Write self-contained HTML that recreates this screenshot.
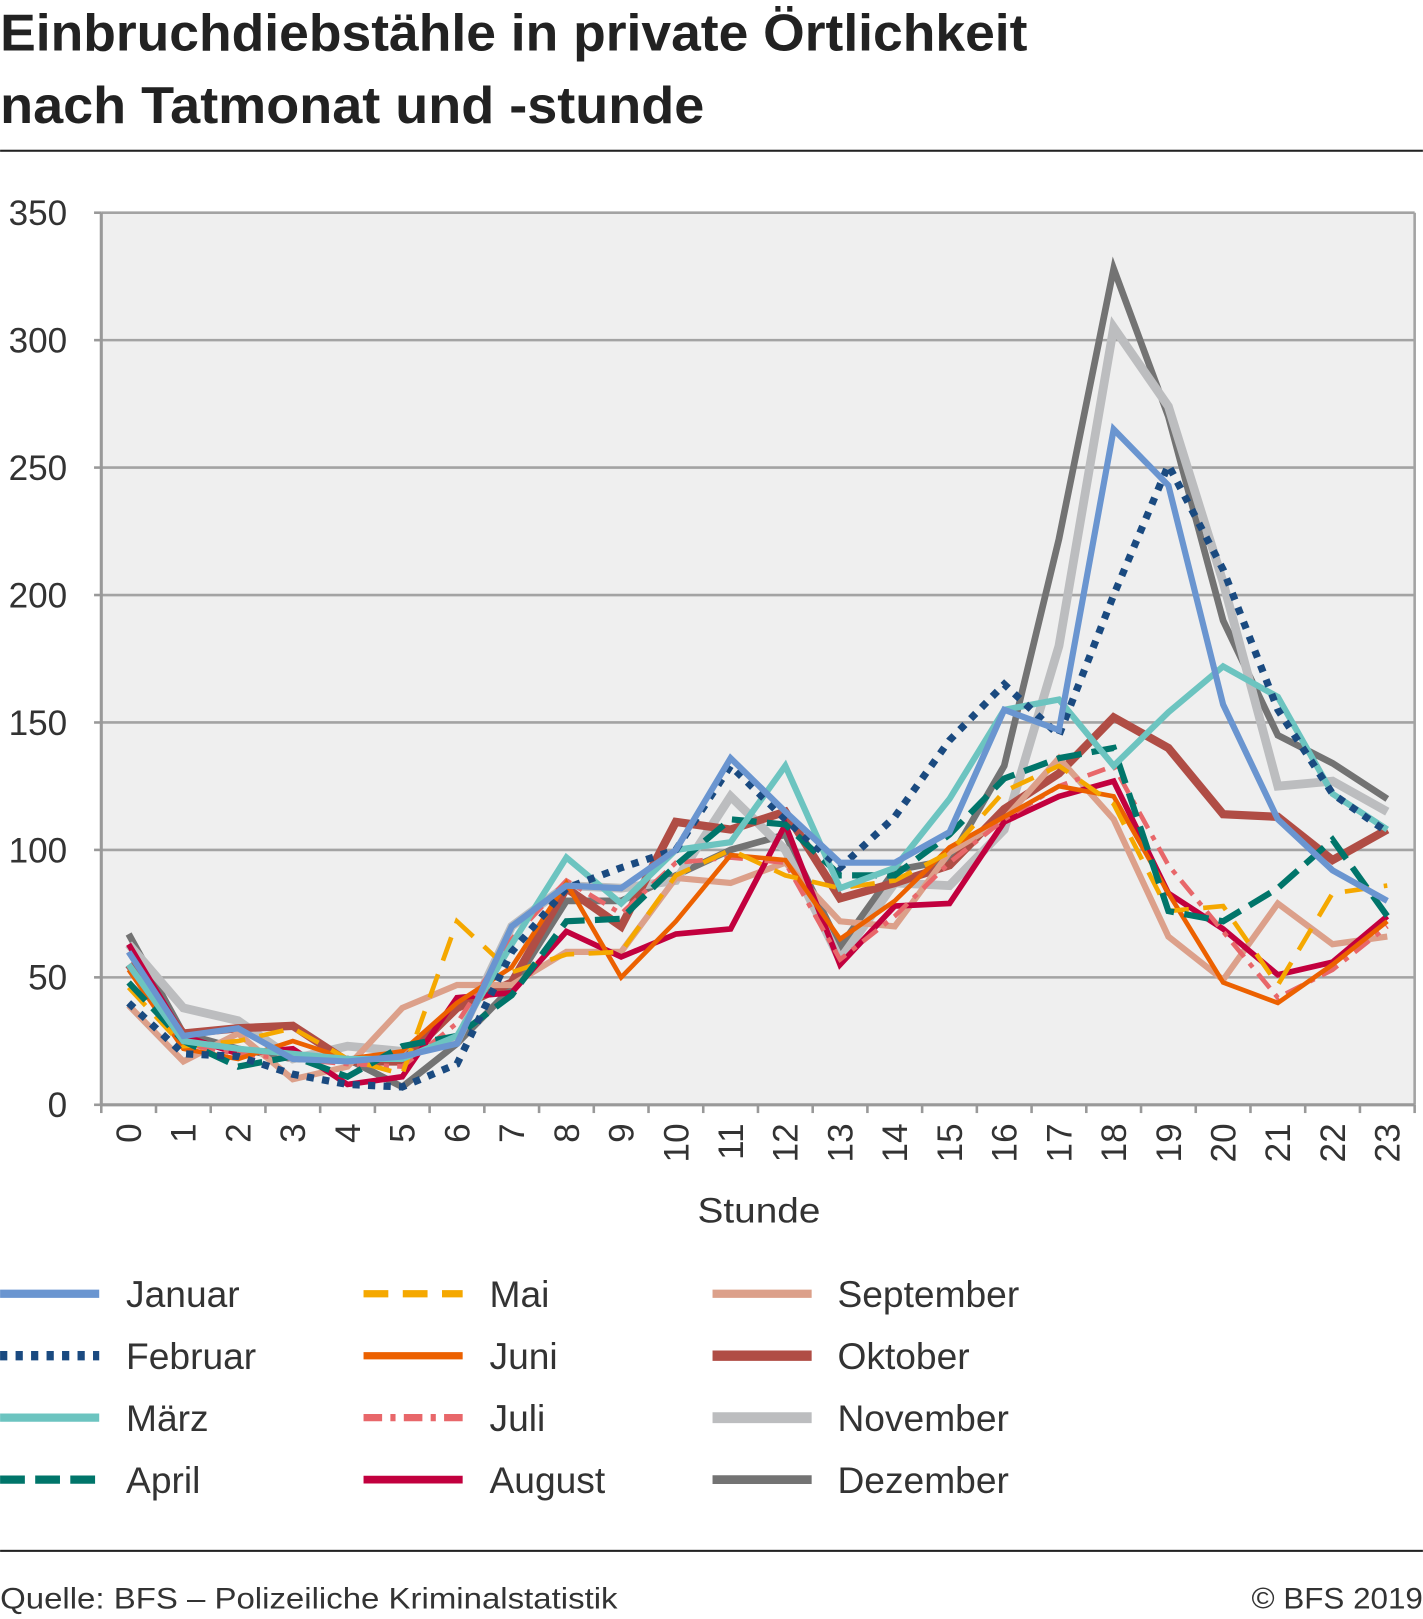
<!DOCTYPE html>
<html><head><meta charset="utf-8"><style>
html,body{margin:0;padding:0;background:#fff;}
svg{display:block;font-family:"Liberation Sans",sans-serif;}
</style></head><body>
<svg id="chart" width="1423" height="1619" viewBox="0 0 1378 1568" xmlns="http://www.w3.org/2000/svg">
<text x="0" y="49" font-size="50" font-weight="bold" fill="#222" textLength="995" lengthAdjust="spacingAndGlyphs">Einbruchdiebstähle in private Örtlichkeit</text>
<text x="0" y="119" font-size="50" font-weight="bold" fill="#222" textLength="682" lengthAdjust="spacingAndGlyphs">nach Tatmonat und -stunde</text>
<rect x="0" y="145" width="1378" height="2" fill="#222"/>
<rect x="98" y="206" width="1272" height="864" fill="#efefef"/>
<g id="grid"></g><g id="axes"></g><g id="series"></g>
<text x="735" y="1184" font-size="34" fill="#333" text-anchor="middle" textLength="119" lengthAdjust="spacingAndGlyphs">Stunde</text>
<g id="legend"></g>
<rect x="0" y="1501" width="1378" height="2" fill="#222"/>
<text x="0" y="1558" font-size="29" fill="#333" textLength="598" lengthAdjust="spacingAndGlyphs">Quelle: BFS – Polizeiliche Kriminalstatistik</text>
<text x="1378" y="1558" font-size="29" fill="#333" text-anchor="end" textLength="166" lengthAdjust="spacingAndGlyphs">© BFS 2019</text>
</svg>
<script>
const hours = ["0","1","2","3","4","5","6","7","8","9","10","11","12","13","14","15","16","17","18","19","20","21","22","23"];
const yTicks = [0,50,100,150,200,250,300,350];
const monthNames = ["Januar","Februar","März","April","Mai","Juni","Juli","August","September","Oktober","November","Dezember"];
const januar = [60,27,30,18,17,19,24,70,86,85,100,136,115,95,95,107,155,147,265,243,157,112,92,80];
const februar = [40,20,19,12,8,7,16,60,85,93,100,133,112,93,113,143,165,145,200,251,210,155,122,107];
const maerz = [55,25,22,20,18,18,27,63,97,79,100,103,133,85,93,120,155,159,133,154,172,160,122,108];
const april = [48,25,15,19,11,23,27,43,72,73,94,112,110,90,90,106,128,136,140,76,72,85,104,74];
const mai = [46,23,25,30,18,12,72,52,59,60,90,100,90,85,88,99,123,133,118,76,78,47,83,86];
const juni = [53,22,18,25,18,21,40,54,87,50,72,98,96,65,80,101,113,125,121,83,48,40,55,72];
const juli = [60,24,20,18,16,15,32,65,88,75,95,97,95,57,74,95,112,125,133,94,68,42,53,70];
const august = [63,27,20,22,8,11,42,44,68,58,67,69,110,55,78,79,111,121,127,83,69,51,56,74];
const september = [39,17,28,10,15,38,47,47,60,60,89,87,95,72,70,99,112,136,112,66,49,79,63,66];
const oktober = [55,28,30,31,17,17,38,48,85,70,111,108,115,81,87,94,116,130,152,140,114,113,96,108];
const november = [63,38,33,18,23,21,25,70,86,85,88,121,100,57,87,86,108,180,305,274,205,125,127,115];
const dezember = [67,28,22,18,18,7,24,46,80,80,90,100,106,62,92,96,133,222,328,270,190,145,134,120];

const NS="http://www.w3.org/2000/svg";
const L=98,R=1370,T=206,B=1070,MAX=350;
const band=(R-L)/hours.length;
const xS=i=>L+band*(i+0.5);
const yS=v=>B-(v/MAX)*(B-T);
function mk(tag,parent,attrs){const e=document.createElementNS(NS,tag);for(const k in attrs)e.setAttribute(k,attrs[k]);parent.appendChild(e);return e;}
const grid=document.getElementById('grid'),axes=document.getElementById('axes'),ser=document.getElementById('series'),leg=document.getElementById('legend');
yTicks.forEach(t=>{
  if(t>0){const g=mk('line',grid,{x1:L,x2:R,y1:yS(t),y2:yS(t),stroke:'#a3a3a3','stroke-width':2.5});
  
  }
  const tk=mk('line',axes,{x1:L-7,x2:L,y1:yS(t),y2:yS(t),stroke:'#999','stroke-width':2.5});
  
  
  const lb=mk('text',axes,{x:65,y:yS(t)+12,'font-size':34,fill:'#333','text-anchor':'end'});
  lb.textContent=t;
  
  
});
const ya=mk('line',axes,{x1:L,x2:L,y1:T,y2:B+1,stroke:'#999','stroke-width':3});


const yr=mk('line',axes,{x1:R,x2:R,y1:T,y2:B,stroke:'#a3a3a3','stroke-width':2.5});


const xa=mk('line',axes,{x1:L,x2:R,y1:B,y2:B,stroke:'#999','stroke-width':3});


for(let i=0;i<=hours.length;i++){
  const tk=mk('line',axes,{x1:L+band*i,x2:L+band*i,y1:B,y2:B+8,stroke:'#999','stroke-width':2.5});
  
  
}
hours.forEach((h,i)=>{
  const x=xS(i)+12,y=1088;
  const lb=mk('text',axes,{x:x,y:y,'font-size':34,fill:'#333','text-anchor':'end',transform:`rotate(-90 ${x} ${y})`});
  lb.textContent=h;
  
  
});
const seriesData=[januar,februar,maerz,april,mai,juni,juli,august,september,oktober,november,dezember];
const styles=[
 {c:'#6a95d0',w:6,d:''},
 {c:'#1a4a80',w:7,d:'7 8'},
 {c:'#6cc4c0',w:6,d:''},
 {c:'#00756a',w:6,d:'24 10'},
 {c:'#f5a800',w:4.5,d:'24 14'},
 {c:'#ec6100',w:4.5,d:''},
 {c:'#e8676a',w:4.5,d:'18 8 5 8'},
 {c:'#c2003e',w:5.5,d:''},
 {c:'#dca08a',w:6,d:''},
 {c:'#b04d45',w:8,d:''},
 {c:'#bcbdbf',w:8.5,d:''},
 {c:'#737373',w:6.5,d:''}
];
for(let s=seriesData.length-1;s>=0;s--){
  const st=styles[s];
  const pts=seriesData[s].map((v,i)=>xS(i).toFixed(1)+','+yS(v).toFixed(1)).join(' ');
  const p=mk('polyline',ser,{points:pts,fill:'none',stroke:st.c,'stroke-width':st.w,'stroke-dasharray':st.d,'stroke-linejoin':'miter'});
  
  
}
const colX=[[0,122],[352,474],[690,811]];
monthNames.forEach((m,i)=>{
  const col=Math.floor(i/4),row=i%4,y=1253+row*60,st=styles[i];
  const g=mk('g',leg,{});
  
  
  const ln=mk('line',g,{x1:colX[col][0],x2:colX[col][0]+96,y1:y,y2:y,stroke:st.c,'stroke-width':Math.max(st.w+2,7),'stroke-dasharray':st.d});
  
  
  const t=mk('text',g,{x:colX[col][1],y:y+13,'font-size':36,fill:'#333'});
  t.textContent=m;
  
  
});
</script>
</body></html>
